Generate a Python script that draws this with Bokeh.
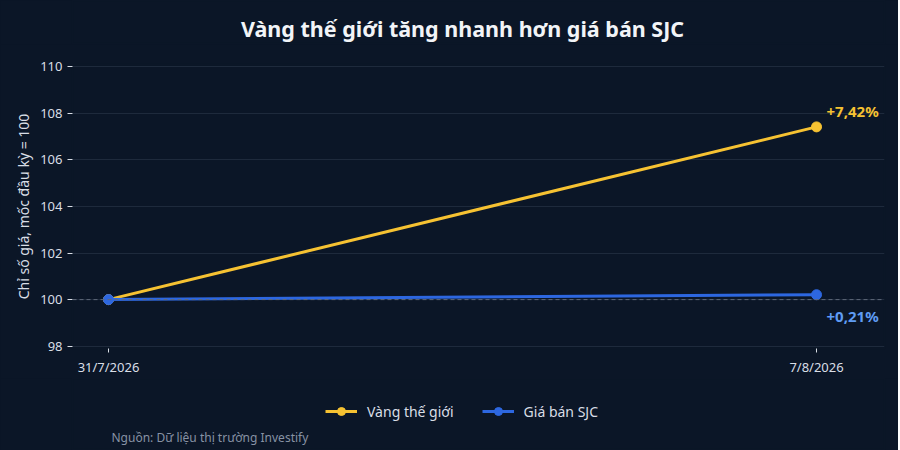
from bokeh.plotting import figure
from bokeh.layouts import column
from bokeh.models import (ColumnDataSource, Range1d, FixedTicker, Span, Label,
                          Legend, LegendItem)
from bokeh.embed import file_html
from bokeh.resources import INLINE

# data
dates = ["31/7/2026", "7/8/2026"]
day_offsets = [0, 7]
gold_index = [100.0, 107.42]
sjc_index = [100.0, 100.21]
series_names = ["Vàng thế giới", "Giá bán SJC"]
y_ticks = [98, 100, 102, 104, 106, 108, 110]

BG = "#0b1627"
GRID = "#1e2a3c"
TXT = "#d9dee6"
GOLD = "#f6c232"
BLUE = "#2d67e0"
BLUE_TXT = "#5f9cf4"
FONT = "Noto Sans"
W = 898
LEFT, RIGHT = 72, 14
FW = W - LEFT - RIGHT


def strip(height):
    # text-only band whose frame lines up with the chart frame
    s = figure(width=W, height=height, output_backend="svg",
               toolbar_location=None, x_range=Range1d(0, FW),
               y_range=Range1d(0, height), min_border_left=LEFT,
               min_border_right=RIGHT, min_border_top=0, min_border_bottom=0,
               background_fill_color=BG, border_fill_color=BG)
    s.outline_line_color = BG
    s.outline_line_width = 2
    s.axis.visible = False
    s.grid.visible = False
    return s


# header: title
h = strip(44)
h.add_layout(Label(x=462 - LEFT, y=16, text="Vàng thế giới tăng nhanh hơn giá bán SJC",
                   text_align="center", text_baseline="middle",
                   text_color="#f2f4f7", text_font=FONT,
                   text_font_size="21.5px", text_font_style="bold"))

# main chart
p = figure(width=W, height=334, output_backend="svg", toolbar_location=None,
           x_range=Range1d(-0.356, 7.672), y_range=Range1d(97.9, 110.1),
           min_border_left=LEFT, min_border_right=RIGHT, min_border_top=20,
           min_border_bottom=23, background_fill_color=BG,
           border_fill_color=BG)
# hides the seam at the frame edge
p.outline_line_color = BG
p.outline_line_width = 2

p.xgrid.grid_line_color = None
p.ygrid.grid_line_color = GRID
p.ygrid.grid_line_width = 1

p.yaxis.ticker = FixedTicker(ticks=y_ticks)
p.yaxis.axis_line_color = None
p.yaxis.major_tick_line_color = TXT
p.yaxis.major_tick_in = 0
p.yaxis.major_tick_out = 5
p.yaxis.minor_tick_line_color = None
p.yaxis.major_label_text_color = TXT
p.yaxis.major_label_text_font = FONT
p.yaxis.major_label_text_font_size = "13px"
p.yaxis.axis_label = "Chỉ số giá, mốc đầu kỳ = 100"
p.yaxis.axis_label_text_color = TXT
p.yaxis.axis_label_text_font = FONT
p.yaxis.axis_label_text_font_size = "14px"
p.yaxis.axis_label_text_font_style = "normal"
p.yaxis.axis_label_standoff = 4

p.xaxis.ticker = FixedTicker(ticks=day_offsets)
p.xaxis.major_label_overrides = {d: s for d, s in zip(day_offsets, dates)}
p.xaxis.axis_line_color = None
p.xaxis.major_tick_line_color = TXT
p.xaxis.major_tick_in = 0
p.xaxis.major_tick_out = 4
p.xaxis.minor_tick_line_color = None
p.xaxis.major_label_text_color = TXT
p.xaxis.major_label_text_font = FONT
p.xaxis.major_label_text_font_size = "13px"

p.add_layout(Span(location=100, dimension="width", line_color="#5f697a",
                  line_width=1, line_dash="4 3"))

src = ColumnDataSource(dict(x=day_offsets, gold=gold_index, sjc=sjc_index))
p.line("x", "gold", source=src, line_color=GOLD, line_width=3)
p.scatter("x", "gold", source=src, size=10, color=GOLD)
p.line("x", "sjc", source=src, line_color=BLUE, line_width=3)
p.scatter("x", "sjc", source=src, size=10, color=BLUE)


def pct(v):
    return "+" + f"{v - 100:.2f}".replace(".", ",") + "%"


p.add_layout(Label(x=day_offsets[-1], y=gold_index[-1], text=pct(gold_index[-1]),
                   x_offset=10, y_offset=16, text_baseline="middle",
                   text_color=GOLD, text_font=FONT, text_font_size="15px",
                   text_font_style="bold"))
p.add_layout(Label(x=day_offsets[-1], y=sjc_index[-1], text=pct(sjc_index[-1]),
                   x_offset=10, y_offset=-21, text_baseline="middle",
                   text_color=BLUE_TXT, text_font=FONT, text_font_size="15px",
                   text_font_style="bold"))

# footer: legend + source
f = strip(72)
nan = float("nan")
leg_renderers = []
for c in (GOLD, BLUE):
    leg_renderers.append([f.line(x=[nan], y=[nan], line_color=c, line_width=3),
                          f.scatter(x=[nan], y=[nan], size=10, color=c)])

f.add_layout(Legend(items=[LegendItem(label=n, renderers=r)
                           for n, r in zip(series_names, leg_renderers)],
                    orientation="horizontal", location=(325 - LEFT, 29),
                    background_fill_alpha=0, border_line_color=None,
                    label_text_color=TXT, label_text_font=FONT,
                    label_text_font_size="14px", glyph_width=32,
                    label_standoff=10, spacing=28, margin=0, padding=0))
f.add_layout(Label(x=111 - LEFT, y=13, text="Nguồn: Dữ liệu thị trường Investify",
                   text_align="left", text_baseline="middle",
                   text_color="#8792a4", text_font=FONT,
                   text_font_size="12px"))

layout = column(h, p, f, spacing=0, styles={"background-color": BG})
open("out.html", "w").write(file_html(layout, INLINE))
